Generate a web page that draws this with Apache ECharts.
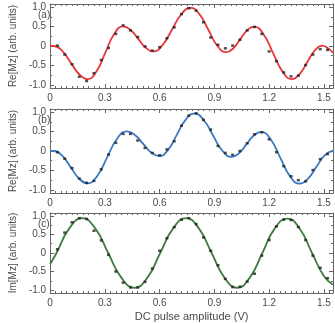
<!DOCTYPE html>
<html><head><meta charset="utf-8">
<script src="https://cdn.jsdelivr.net/npm/echarts@6/dist/echarts.min.js"></script>
<style>html,body{margin:0;padding:0;background:#fff}#c{width:335px;height:323px}</style>
</head><body><div id="c"></div>
<script>
// ---- data ----
const pointX = [0.04,0.08,0.12,0.16,0.20,0.24,0.28,0.32,0.36,0.40,0.44,0.48,0.52,0.56,0.60,0.64,0.68,0.72,0.76,0.80,0.84,0.88,0.92,0.96,1.00,1.04,1.08,1.12,1.16,1.20,1.24,1.28,1.32,1.36,1.40,1.44,1.48,1.52];
const pointsA = [0.01,-0.22,-0.47,-0.79,-0.90,-0.70,-0.36,-0.05,0.31,0.53,0.40,0.23,-0.01,-0.12,-0.03,0.20,0.48,0.82,0.97,0.91,0.61,0.22,0.03,-0.06,0.01,0.16,0.40,0.49,0.31,-0.14,-0.39,-0.68,-0.78,-0.76,-0.49,-0.22,-0.08,-0.10];
const pointsB = [-0.03,-0.20,-0.44,-0.71,-0.82,-0.77,-0.47,-0.09,0.21,0.44,0.44,0.27,0.08,-0.05,-0.11,0.04,0.25,0.65,0.91,0.97,0.80,0.55,0.13,-0.05,-0.10,0.00,0.20,0.43,0.48,0.30,-0.03,-0.39,-0.65,-0.75,-0.78,-0.49,-0.21,-0.08];
const pointsC = [0.10,0.55,0.83,0.94,0.92,0.60,0.34,-0.05,-0.50,-0.80,-0.93,-0.93,-0.78,-0.42,0.06,0.40,0.70,0.90,0.94,0.78,0.42,0.06,-0.33,-0.70,-0.92,-0.91,-0.77,-0.56,-0.07,0.35,0.72,0.90,0.89,0.70,0.35,-0.07,-0.40,-0.68];

const fitXA = [0,0.02,0.066,0.1125,0.159,0.205,0.254,0.3025,0.351,0.40,0.441,0.4825,0.524,0.565,0.616,0.6675,0.719,0.77,0.819,0.8675,0.916,0.965,1.003,1.041,1.079,1.117,1.169,1.221,1.273,1.325,1.367,1.4085,1.45,1.492,1.52,1.55];
const fitYA = [0,0,-0.124,-0.425,-0.726,-0.85,-0.652,-0.172,0.307,0.505,0.411,0.1825,-0.046,-0.14,0.024,0.42,0.816,0.98,0.814,0.41,0.006,-0.16,-0.064,0.17,0.404,0.50,0.303,-0.175,-0.653,-0.85,-0.724,-0.42,-0.116,0.01,-0.05,-0.17];
const fitXB = [0,0.02,0.066,0.1125,0.159,0.205,0.259,0.3125,0.366,0.42,0.4645,0.509,0.5535,0.598,0.646,0.694,0.742,0.79,0.841,0.892,0.943,0.994,1.035,1.0755,1.116,1.157,1.209,1.2615,1.314,1.366,1.412,1.458,1.504,1.55];
const fitYB = [0,0,-0.119,-0.415,-0.711,-0.83,-0.635,-0.1625,0.31,0.505,0.412,0.1875,-0.037,-0.13,0.029,0.415,0.801,0.96,0.798,0.405,0.012,-0.15,-0.057,0.17,0.397,0.49,0.296,-0.175,-0.646,-0.84,-0.716,-0.415,-0.114,0.01];
const fitXC = [0,0.035,0.105,0.175,0.247,0.318,0.39,0.462,0.533,0.603,0.674,0.745,0.815,0.885,0.955,1.025,1.094,1.163,1.231,1.30,1.367,1.435,1.50,1.55];
const fitYC = [-0.30,0.0,0.665,0.94,0.665,0,-0.665,-0.94,-0.665,0,0.665,0.94,0.665,0,-0.665,-0.94,-0.665,0,0.665,0.93,0.66,0,-0.62,-0.86];

const xTicks = [0,0.3,0.6,0.9,1.2,1.5];
const yTicks = [-1,-0.5,0,0.5,1];
const panelLabels = ['(a)','(b)','(c)'];
const yNames = ['Re[Mz] (arb. units)','Re[Mz] (arb. units)','Im[Mz] (arb. units)'];
const xName = 'DC pulse amplitude (V)';

// ---- styling / layout ----
const FONT = 'Liberation Sans, Arial, sans-serif';
const TXT = '#4a4a4a';
const FRAME = '#666666';
const colors = ['#e8363a','#3b78c4','#3f7d3f'];
const tops = [4,109,213];
const H = 84;
const XMAX = 1.55, YMIN = -1.08, YMAX = 1.08;
const minorX = []; for (let i = 0; i <= 51; i++) minorX.push(+(i*0.03).toFixed(2));
const minorY = [-1,-0.75,-0.5,-0.25,0,0.25,0.5,0.75,1];
const fmt = v => (Math.abs(v) < 1e-9 ? '0' : v.toFixed(1));

const grids = [], xAxes = [], yAxes = [], series = [], graphics = [];
const fits = [[fitXA,fitYA],[fitXB,fitYB],[fitXC,fitYC]];
const pts = [pointsA,pointsB,pointsC];

for (let g = 0; g < 3; g++) {
  grids.push({left:31, right:2, top:tops[g], height:H});
  const xBase = xAxes.length, yBase = yAxes.length;
  [['bottom',true],['bottom',false],['top',true],['top',false]].forEach(([pos,main]) => {
    xAxes.push({
      type:'value', gridIndex:g, position:pos, min:0, max:XMAX,
      axisLine:{show:main, onZero:false, lineStyle:{color:FRAME, width:1}},
      axisTick:{show:true, inside:true, length: main?4:2, customValues: main?xTicks:minorX, lineStyle:{color:FRAME}},
      axisLabel:{show: main && pos==='bottom', customValues:xTicks, formatter:fmt, color:TXT, fontSize:10, fontFamily:FONT, margin:5},
      splitLine:{show:false},
      name: (main && pos==='bottom' && g===2) ? xName : '',
      nameLocation:'middle', nameGap:18, nameTextStyle:{color:TXT, fontSize:11, fontFamily:FONT}
    });
  });
  [['left',true],['left',false],['right',true],['right',false]].forEach(([pos,main]) => {
    yAxes.push({
      type:'value', gridIndex:g, position:pos, min:YMIN, max:YMAX,
      axisLine:{show:main, onZero:false, lineStyle:{color:FRAME, width:1}},
      axisTick:{show:true, inside:true, length: main?4:2, customValues: main?yTicks:minorY, lineStyle:{color:FRAME}},
      axisLabel:{show: main && pos==='left', customValues:yTicks, formatter:fmt, color:TXT, fontSize:10, fontFamily:FONT, margin:4},
      splitLine:{show:false},
      name: (main && pos==='left') ? yNames[g] : '',
      nameLocation:'middle', nameGap:23, nameRotate:90,
      nameTextStyle:{color:TXT, fontSize:10, fontFamily:FONT}
    });
  });
  const [fx, fy] = fits[g];
  series.push({
    type:'line', xAxisIndex:xBase, yAxisIndex:yBase, smooth:0.5, symbol:'none',
    lineStyle:{color:colors[g], width:1.8}, data: fx.map((x,i)=>[x, fy[i]]), z:2
  });
  series.push({
    type:'scatter', xAxisIndex:xBase, yAxisIndex:yBase, symbol:'rect', symbolSize:[3,2.5],
    itemStyle:{color:'#222'}, data: pointX.map((x,i)=>[x, pts[g][i]]), z:3
  });
  graphics.push({type:'text', left:38, top:tops[g]+6, style:{text:panelLabels[g], fill:TXT, font:'10px '+FONT}});
}

const chart = echarts.init(document.getElementById('c'), null, {renderer:'canvas'});
chart.setOption({
  animation:false,
  backgroundColor:'#fff',
  grid: grids, xAxis: xAxes, yAxis: yAxes, series: series, graphic: graphics
});
</script>
</body></html>
